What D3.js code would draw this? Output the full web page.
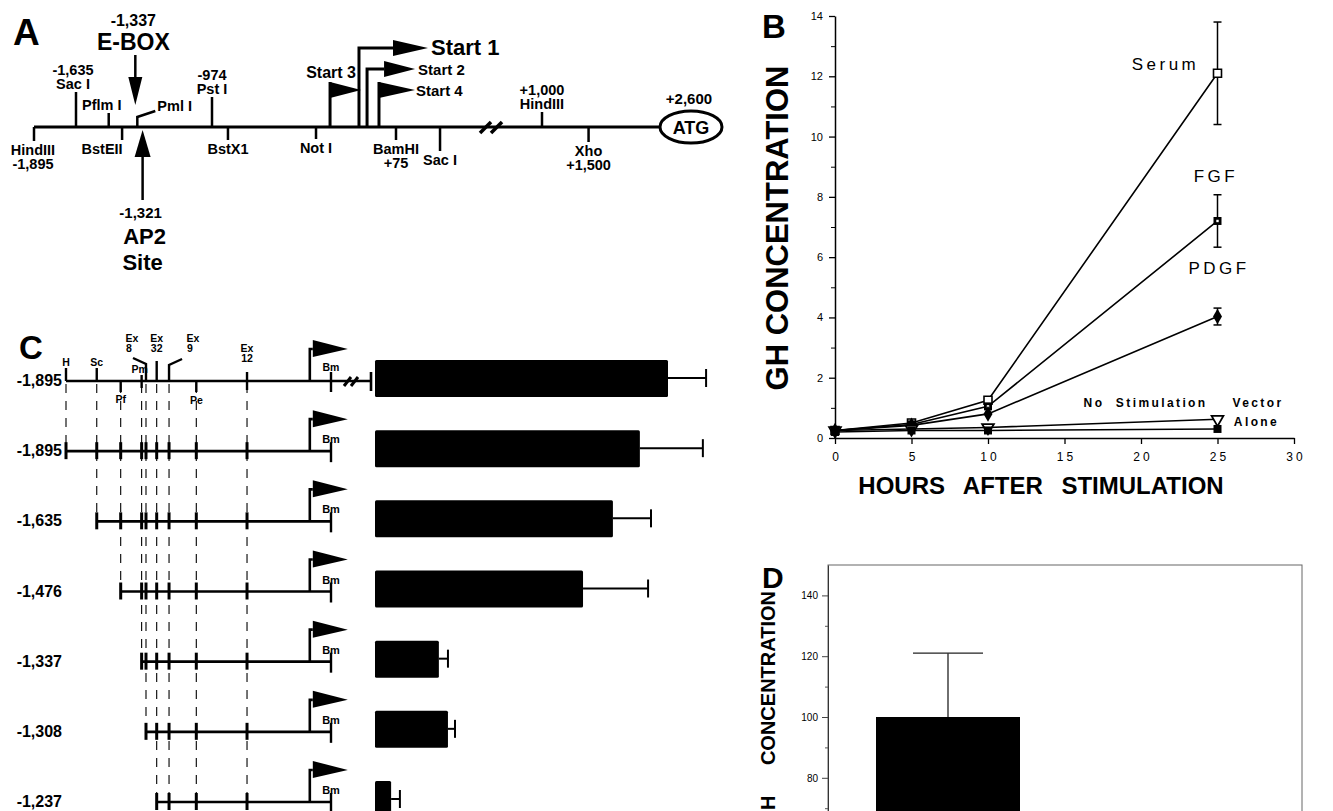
<!DOCTYPE html>
<html>
<head>
<meta charset="utf-8">
<script src="https://cdn.jsdelivr.net/npm/d3@7"></script>
<style>
  body { margin: 0; background: #fff; }
  svg { display: block; }
  text { font-family: "Liberation Sans", Arial, Helvetica, sans-serif; fill: #000; }
</style>
</head>
<body>
<script>
// ---------- data ----------
// A: restriction map of the GH promoter region (bp, relative to start 1)
const mapSites = [
  { id: "hind5", bp: -1895, side: "down", text: ["HindIII", "-1,895"] },
  { id: "sac5", bp: -1635, side: "up", text: ["-1,635", "Sac I"] },
  { id: "pflm", bp: -1476, side: "up", text: ["Pflm I"] },
  { id: "bste", bp: -1411, side: "down", text: ["BstEII"] },
  { id: "pst", bp: -974, side: "up", text: ["-974", "Pst I"] },
  { id: "bstx", bp: -883, side: "down", text: ["BstX1"] },
  { id: "not", bp: -381, side: "down", text: ["Not I"] },
  { id: "bam", bp: 75, side: "down", text: ["BamHI", "+75"] },
  { id: "sac3", bp: 336, side: "down", text: ["Sac I"] },
  { id: "hind3", bp: 1000, side: "up", text: ["+1,000", "HindIII"] },
  { id: "xho", bp: 1500, side: "down", text: ["Xho", "+1,500"] }
];
const startSites = [
  { name: "Start 1", bp: -136 },
  { name: "Start 2", bp: -90 },
  { name: "Start 3", bp: -301 },
  { name: "Start 4", bp: -22 }
];
const eBox = { bp: -1337, text: ["-1,337", "E-BOX"] };
const ap2Site = { bp: -1321, text: ["-1,321", "AP2", "Site"] };
const pmlSite = { bp: -1337, text: "Pml I" };
const atgSite = { bp: 2600, text: "+2,600" };
const mapBreakBp = 650;

// B: GH concentration after stimulation
const hours = [0, 5, 10, 25];
const serumGH = [0.25, 0.5, 1.25, 12.1];
const fgfGH = [0.25, 0.45, 1.05, 7.2];
const pdgfGH = [0.25, 0.42, 0.8, 4.03];
const noStimGH = [0.25, 0.3, 0.35, 0.62];
const vectorGH = [0.2, 0.25, 0.25, 0.3];
const serumSD = [0, 0, 0, 1.7];
const fgfSD = [0, 0, 0, 0.87];
const pdgfSD = [0, 0, 0, 0.28];
const hourTicks = [0, 5, 10, 15, 20, 25, 30];
const ghTicks = [0, 2, 4, 6, 8, 10, 12, 14];
const ghMinorTicks = [1, 3, 5, 7, 9, 11, 13];

// C: deletion constructs and their activity
const cSites = [
  { name: "H", bp: -1895 },
  { name: "Sc", bp: -1635 },
  { name: "Pf", bp: -1476 },
  { name: "Pm", bp: -1337 },
  { name: "Ex 8", bp: -1308 },
  { name: "Ex 32", bp: -1237 },
  { name: "Ex 9", bp: -1155 },
  { name: "Pe", bp: -974 },
  { name: "Ex 12", bp: -579 },
  { name: "Bm", bp: 75 }
];
const constructLabels = ["-1,895", "-1,895", "-1,635", "-1,476", "-1,337", "-1,308", "-1,237"];
const constructStart = [-1895, -1895, -1635, -1476, -1337, -1308, -1237];
const activity = [100, 90.4, 81.2, 71.0, 21.8, 24.9, 5.5];
const activityErr = [13.0, 21.5, 13.0, 22.2, 3.1, 2.4, 3.0];

// D: single bar
const dCategories = ["GH"];
const dValues = [100];
const dErr = [21];
const dTicks = [80, 100, 120, 140];
const dMinorTicks = [70, 90, 110, 130];

// ---------- drawing ----------
const svg = d3.select("body").append("svg")
  .attr("width", 1333)
  .attr("height", 811);

function label(g, x, y, txt, size, opts = {}) {
  return g.append("text")
    .attr("x", x)
    .attr("y", y)
    .attr("text-anchor", opts.anchor || "middle")
    .attr("font-size", size)
    .attr("font-weight", opts.weight || "bold")
    .style("letter-spacing", opts.ls ? opts.ls + "px" : null)
    .style("word-spacing", opts.ws ? opts.ws + "px" : null)
    .attr("fill", opts.fill || "#000")
    .text(txt);
}

// ===== Panel A =====
const gA = svg.append("g");
label(gA, 13, 45, "A", 37, { anchor: "start" });

const xA = d3.scaleLinear()
  .domain([-1895, -1635, -974, 75, mapBreakBp, 1000, 2600])
  .range([34, 76, 212, 396, 493, 542, 691]);
const yMap = 127;
const atgRx = 31, atgRy = 16;

gA.append("line")
  .attr("x1", xA(-1895)).attr("x2", xA(atgSite.bp) - atgRx)
  .attr("y1", yMap).attr("y2", yMap)
  .attr("stroke", "#000").attr("stroke-width", 3);

const tickLen = { hind5: 14, sac5: 35, pflm: 14, bste: 13, pst: 30, bstx: 13, not: 12, bam: 13, sac3: 24, hind3: 15, xho: 15 };
const labelDx = { pflm: -7, sac5: -3, bste: -20, hind5: -1 };

mapSites.forEach(s => {
  const x = xA(s.bp);
  const len = tickLen[s.id];
  const y2 = s.side === "up" ? yMap - len : yMap + len;
  gA.append("line")
    .attr("x1", x).attr("x2", x).attr("y1", yMap).attr("y2", y2)
    .attr("stroke", "#000").attr("stroke-width", 2.5);
  const lx = x + (labelDx[s.id] || 0);
  if (s.side === "up") {
    s.text.slice().reverse().forEach((t, i) => label(gA, lx, y2 - 3 - i * 14, t, 14.5));
  } else {
    s.text.forEach((t, i) => label(gA, lx, y2 + 14 + i * 14, t, 14.5));
  }
});

// break marks
const xb = xA(mapBreakBp);
[-8, 3].forEach(o => {
  gA.append("line")
    .attr("x1", xb + o - 5).attr("y1", yMap + 6)
    .attr("x2", xb + o + 6).attr("y2", yMap - 5)
    .attr("stroke", "#000").attr("stroke-width", 3.5);
});

// ATG
gA.append("ellipse")
  .attr("cx", xA(atgSite.bp)).attr("cy", yMap)
  .attr("rx", atgRx).attr("ry", atgRy)
  .attr("fill", "#fff").attr("stroke", "#000").attr("stroke-width", 3);
label(gA, xA(atgSite.bp), yMap + 7, "ATG", 18);
label(gA, xA(atgSite.bp) - 2, yMap - 23, atgSite.text, 15);

// Pml I bent tick
const xPml = xA(pmlSite.bp);
gA.append("path")
  .attr("d", `M${xPml},${yMap}V${yMap - 10}L${xPml + 18},${yMap - 16}`)
  .attr("fill", "none").attr("stroke", "#000").attr("stroke-width", 2.5);
label(gA, xPml + 20, yMap - 16, pmlSite.text, 14.5, { anchor: "start" });

// E-box arrow (down)
const xE = xA(eBox.bp) - 2;
gA.append("line").attr("x1", xE).attr("x2", xE).attr("y1", 55).attr("y2", 80)
  .attr("stroke", "#000").attr("stroke-width", 2.5);
gA.append("path").attr("d", `M${xE - 7},77L${xE + 7},77L${xE},105Z`).attr("fill", "#000");
label(gA, xE - 2, 26, eBox.text[0], 16);
label(gA, xE - 2, 50, eBox.text[1], 23);

// AP2 arrow (up)
const xP = xA(ap2Site.bp) + 2;
gA.append("path").attr("d", `M${xP},130L${xP + 8},157L${xP - 8},157Z`).attr("fill", "#000");
gA.append("line").attr("x1", xP).attr("x2", xP).attr("y1", 156).attr("y2", 200)
  .attr("stroke", "#000").attr("stroke-width", 2.5);
label(gA, xP - 2, 218, ap2Site.text[0], 15);
label(gA, xP + 2, 244, ap2Site.text[1], 22);
label(gA, xP, 270, ap2Site.text[2], 22);

// transcription starts
const startStyle = {
  "Start 1": { h: 79, arm: 34, tri: 35, half: 8, size: 22, labelPos: "right" },
  "Start 2": { h: 58, arm: 17, tri: 31, half: 8, size: 15, labelPos: "right" },
  "Start 3": { h: 37, arm: 0, tri: 31, half: 8, size: 16, labelPos: "above" },
  "Start 4": { h: 37, arm: 0, tri: 36, half: 8, size: 15, labelPos: "right" }
};
startSites.forEach(s => {
  const st = startStyle[s.name];
  const x = xA(s.bp);
  const top = yMap - st.h;
  if (st.arm > 0) {
    gA.append("path")
      .attr("d", `M${x},${yMap}V${top}H${x + st.arm}`)
      .attr("fill", "none").attr("stroke", "#000").attr("stroke-width", 3);
    const bx = x + st.arm;
    gA.append("path").attr("d", `M${bx},${top - st.half}L${bx + st.tri},${top}L${bx},${top + st.half}Z`).attr("fill", "#000");
    label(gA, bx + st.tri + 3, top + (st.size > 18 ? 7 : 6), s.name, st.size, { anchor: "start" });
  } else {
    gA.append("line").attr("x1", x).attr("x2", x).attr("y1", yMap).attr("y2", top - st.half)
      .attr("stroke", "#000").attr("stroke-width", 3);
    gA.append("path").attr("d", `M${x},${top - st.half}L${x + st.tri},${top}L${x},${top + st.half}Z`).attr("fill", "#000");
    if (st.labelPos === "above") {
      label(gA, x + 1, top - 12, s.name, st.size);
    } else {
      label(gA, x + st.tri + 1, top + 6, s.name, st.size, { anchor: "start" });
    }
  }
});

// ===== Panel B =====
const gB = svg.append("g");
label(gB, 762, 38, "B", 33, { anchor: "start" });

const xB = d3.scaleLinear().domain([0, 30]).range([835, 1294]);
const yB = d3.scaleLinear().domain([0, 14]).range([438, 16]);

gB.append("g")
  .attr("transform", `translate(0,${yB(0)})`)
  .call(d3.axisBottom(xB).tickValues(hourTicks).tickSize(6).tickSizeOuter(0).tickPadding(8))
  .call(g => g.select(".domain").attr("stroke-width", 1.5))
  .call(g => g.selectAll(".tick line").attr("stroke-width", 1.3))
  .call(g => g.selectAll(".tick text")
    .attr("font-size", 12).attr("font-family", null)
    .style("letter-spacing", "3px").attr("dx", "1.5"));

gB.append("g")
  .attr("transform", `translate(${xB(0)},0)`)
  .call(d3.axisLeft(yB).tickValues(ghTicks).tickSize(6).tickSizeOuter(0).tickPadding(6))
  .call(g => g.select(".domain").attr("stroke-width", 1.5))
  .call(g => g.selectAll(".tick line").attr("stroke-width", 1.3))
  .call(g => g.selectAll(".tick text").attr("font-size", 11).attr("font-family", null));

gB.append("g")
  .attr("transform", `translate(${xB(0)},0)`)
  .call(d3.axisLeft(yB).tickValues(ghMinorTicks).tickSize(4).tickSizeOuter(0).tickFormat(""))
  .call(g => g.select(".domain").remove());

const seriesB = [
  { key: "Serum", values: serumGH, sd: serumSD, marker: "openSquare" },
  { key: "FGF", values: fgfGH, sd: fgfSD, marker: "dotSquare" },
  { key: "PDGF", values: pdgfGH, sd: pdgfSD, marker: "diamond" },
  { key: "No Stimulation", values: noStimGH, sd: null, marker: "openTriangle" },
  { key: "Vector Alone", values: vectorGH, sd: null, marker: "square" }
];

const lineB = d3.line().x((d, i) => xB(hours[i])).y(d => yB(d));
seriesB.forEach(s => {
  gB.append("path")
    .attr("d", lineB(s.values))
    .attr("fill", "none").attr("stroke", "#000").attr("stroke-width", 1.6);
});

seriesB.forEach(s => {
  if (!s.sd) return;
  s.values.forEach((v, i) => {
    if (!s.sd[i]) return;
    const x = xB(hours[i]);
    const g = gB.append("g").attr("stroke", "#000").attr("stroke-width", 1.5);
    g.append("line").attr("x1", x).attr("x2", x).attr("y1", yB(v - s.sd[i])).attr("y2", yB(v + s.sd[i]));
    [v - s.sd[i], v + s.sd[i]].forEach(e => g.append("line")
      .attr("x1", x - 4).attr("x2", x + 4).attr("y1", yB(e)).attr("y2", yB(e)));
  });
});

const sq = d3.symbol().type(d3.symbolSquare).size(64);
const dia = d3.symbol().type(d3.symbolDiamond).size(70);
const tri = d3.symbol().type(d3.symbolTriangle).size(60);
seriesB.forEach(s => {
  s.values.forEach((v, i) => {
    const t = `translate(${xB(hours[i])},${yB(v)})`;
    if (s.marker === "openSquare") {
      gB.append("path").attr("d", sq()).attr("transform", t)
        .attr("fill", "#fff").attr("stroke", "#000").attr("stroke-width", 1.6);
    } else if (s.marker === "dotSquare") {
      gB.append("path").attr("d", sq()).attr("transform", t).attr("fill", "#000");
      gB.append("rect").attr("x", xB(hours[i]) - 1.2).attr("y", yB(v) - 1.2)
        .attr("width", 2.4).attr("height", 2.4).attr("fill", "#fff");
    } else if (s.marker === "diamond") {
      gB.append("path").attr("d", dia()).attr("transform", t).attr("fill", "#000");
    } else if (s.marker === "openTriangle") {
      gB.append("path").attr("d", tri()).attr("transform", t + " rotate(180)")
        .attr("fill", "#fff").attr("stroke", "#000").attr("stroke-width", 1.8);
    } else {
      gB.append("path").attr("d", sq()).attr("transform", t).attr("fill", "#000");
    }
  });
});

// series annotations (hours / value anchors)
const annB = [
  { text: "Serum", h: 21.6, v: 12.2, size: 17, ls: 3.5, w: "normal" },
  { text: "FGF", h: 24.9, v: 8.5, size: 17, ls: 3.5, w: "normal" },
  { text: "PDGF", h: 25.1, v: 5.45, size: 17, ls: 3.5, w: "normal" },
  { text: "No  Stimulation", h: 20.3, v: 1.02, size: 12, ls: 2.4, w: "bold" },
  { text: "Vector", h: 27.65, v: 1.02, size: 12, ls: 2.4, w: "bold" },
  { text: "Alone", h: 27.55, v: 0.39, size: 12, ls: 2.4, w: "bold" }
];
annB.forEach(a => label(gB, xB(a.h), yB(a.v), a.text, a.size, { ls: a.ls, weight: a.w })
  .style("white-space", "pre"));

label(gB, 1041, 494, "HOURS AFTER STIMULATION", 24, { ws: 12 });
gB.append("text")
  .attr("transform", "translate(788,228) rotate(-90)")
  .attr("text-anchor", "middle")
  .attr("font-size", 31).attr("font-weight", "bold")
  .text("GH CONCENTRATION");

// ===== Panel C =====
const gC = svg.append("g");
label(gC, 19, 359, "C", 33, { anchor: "start" });

// same map geometry as panel A, rescaled to panel C's span
const xAUp = d3.scaleLinear().domain([-1895, -1635, -974, 75]).range([34, 76, 212, 396]);
const xC = xAUp.copy().range(xAUp.range().map(v => 66 + (v - 34) * (331 - 66) / (396 - 34)));
const yRow = d3.scalePoint().domain(d3.range(constructLabels.length)).range([381, 802]);
const xBar = d3.scaleLinear().domain([0, 100]).range([375, 668]);
const bm = cSites[cSites.length - 1];
const tss = startSites[1];

// dashed guide lines
cSites.slice(0, -1).forEach(s => {
  const last = d3.max(constructStart.map((st, i) => (st <= s.bp ? i : -1)));
  gC.append("line")
    .attr("x1", xC(s.bp)).attr("x2", xC(s.bp))
    .attr("y1", yRow(0) + 3).attr("y2", yRow(last) - 8)
    .attr("stroke", "#000").attr("stroke-width", 1.1)
    .attr("stroke-dasharray", "9,8");
});

// row 1 site annotations
const cLayout = {
  "H": { t: [-13, 0], labs: [["H", 0, -15]] },
  "Sc": { t: [-13, 0], labs: [["Sc", 0, -15]] },
  "Pf": { t: [0, 11], labs: [["Pf", 0, 22]] },
  "Pm": { t: [-6, 7], labs: [["Pm", -2, -8]] },
  "Ex 8": { t: [-17, 0], bend: [-13, -23], labs: [["Ex", -14, -39], ["8", -17, -29]] },
  "Ex 32": { t: [-20, 0], labs: [["Ex", 0, -39], ["32", 0, -29]] },
  "Ex 9": { t: [-16, 0], bend: [13, -22], labs: [["Ex", 24, -39], ["9", 21, -29]] },
  "Pe": { t: [0, 11], labs: [["Pe", 0, 23]] },
  "Ex 12": { t: [-9, 9], labs: [["Ex", 0, -29], ["12", 0, -19]] },
  "Bm": { t: [-9, 11], labs: [["Bm", 0, -10]] }
};

constructLabels.forEach((lab, i) => {
  const y = yRow(i);
  const start = constructStart[i];
  const xEnd = i === 0 ? xC(bm.bp) + 40 : xC(bm.bp);
  label(gC, 62, y + 5, lab, 16, { anchor: "end" });
  gC.append("line")
    .attr("x1", xC(start)).attr("x2", xEnd).attr("y1", y).attr("y2", y)
    .attr("stroke", "#000").attr("stroke-width", 2.6);

  if (i === 0) {
    cSites.forEach(s => {
      const L = cLayout[s.name];
      const x = xC(s.bp);
      let d = `M${x},${y + L.t[1]}V${y + L.t[0]}`;
      if (L.bend) d += `L${x + L.bend[0]},${y + L.bend[1]}`;
      gC.append("path").attr("d", d).attr("fill", "none")
        .attr("stroke", "#000").attr("stroke-width", 2.4);
      L.labs.forEach(l => label(gC, x + l[1], y + l[2], l[0], 10.5));
    });
    // break and 3' end
    [-4, 3].forEach(o => gC.append("line")
      .attr("x1", xC(bm.bp) + 17 + o).attr("y1", y + 5)
      .attr("x2", xC(bm.bp) + 24 + o).attr("y2", y - 4)
      .attr("stroke", "#000").attr("stroke-width", 3));
    gC.append("line").attr("x1", xEnd).attr("x2", xEnd).attr("y1", y - 9).attr("y2", y + 10)
      .attr("stroke", "#000").attr("stroke-width", 2.6);
  } else {
    cSites.filter(s => s.bp >= start).forEach(s => {
      const x = xC(s.bp);
      const isBm = s === bm;
      gC.append("line").attr("x1", x).attr("x2", x)
        .attr("y1", y - 9).attr("y2", y + (isBm ? 11 : 8))
        .attr("stroke", "#000").attr("stroke-width", isBm ? 2.4 : 3);
    });
    label(gC, xC(bm.bp), y - 8, "Bm", 11);
  }

  // promoter flag
  const xt = xC(tss.bp);
  gC.append("path").attr("d", `M${xt},${y}V${y - 32}H${xt + 3}`)
    .attr("fill", "none").attr("stroke", "#000").attr("stroke-width", 2.6);
  gC.append("path").attr("d", `M${xt + 3},${y - 41}L${xt + 38},${y - 32}L${xt + 3},${y - 24}Z`)
    .attr("fill", "#000");

  // activity bar
  gC.append("rect")
    .attr("x", xBar(0)).attr("y", y - 21)
    .attr("width", xBar(activity[i]) - xBar(0)).attr("height", 37)
    .attr("rx", 1.5).attr("fill", "#000");
  const ye = y - 3;
  gC.append("line")
    .attr("x1", xBar(activity[i])).attr("x2", xBar(activity[i] + activityErr[i]))
    .attr("y1", ye).attr("y2", ye).attr("stroke", "#000").attr("stroke-width", 2);
  gC.append("line")
    .attr("x1", xBar(activity[i] + activityErr[i])).attr("x2", xBar(activity[i] + activityErr[i]))
    .attr("y1", ye - 9).attr("y2", ye + 9).attr("stroke", "#000").attr("stroke-width", 2);
});

// ===== Panel D =====
const gD = svg.append("g");
label(gD, 762, 588, "D", 30, { anchor: "start" });

const yD = d3.scaleLinear().domain([0, 150]).range([1021, 565]);
const xD = d3.scaleBand().domain(dCategories).range([828, 1068]).paddingInner(0.25).paddingOuter(0.25);

gD.append("rect")
  .attr("x", 828).attr("y", yD(150))
  .attr("width", 1302 - 828).attr("height", yD(0) - yD(150))
  .attr("fill", "none").attr("stroke", "#666").attr("stroke-width", 1);

gD.append("g")
  .attr("transform", "translate(828,0)")
  .call(d3.axisLeft(yD).tickValues(dTicks).tickSize(6).tickSizeOuter(0).tickPadding(4))
  .call(g => g.select(".domain").attr("stroke", "#333"))
  .call(g => g.selectAll(".tick line").attr("stroke", "#444"))
  .call(g => g.selectAll(".tick text").attr("font-size", 10).attr("fill", "#555").attr("font-family", null));
gD.append("g")
  .attr("transform", "translate(828,0)")
  .call(d3.axisLeft(yD).tickValues(dMinorTicks).tickSize(3).tickSizeOuter(0).tickFormat(""))
  .call(g => g.select(".domain").remove())
  .call(g => g.selectAll(".tick line").attr("stroke", "#555"));

dCategories.forEach((c, i) => {
  gD.append("rect")
    .attr("x", xD(c)).attr("y", yD(dValues[i]))
    .attr("width", xD.bandwidth()).attr("height", yD(0) - yD(dValues[i]))
    .attr("fill", "#000");
  const cx = xD(c) + xD.bandwidth() / 2;
  gD.append("line").attr("x1", cx).attr("x2", cx)
    .attr("y1", yD(dValues[i])).attr("y2", yD(dValues[i] + dErr[i]))
    .attr("stroke", "#222").attr("stroke-width", 1.3);
  gD.append("line").attr("x1", cx - 35).attr("x2", cx + 35)
    .attr("y1", yD(dValues[i] + dErr[i])).attr("y2", yD(dValues[i] + dErr[i]))
    .attr("stroke", "#222").attr("stroke-width", 1.3);
});

gD.append("text")
  .attr("transform", "translate(775,591) rotate(-90)")
  .attr("text-anchor", "end")
  .attr("font-size", 20).attr("font-weight", "bold")
  .style("word-spacing", "25px")
  .text("GH CONCENTRATION");
</script>
</body>
</html>
